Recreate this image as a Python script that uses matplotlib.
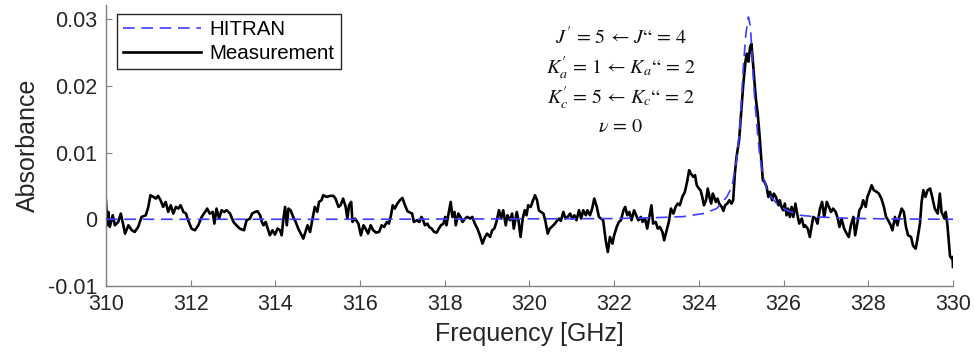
import numpy as np
import matplotlib
matplotlib.use('Agg')
import matplotlib.pyplot as plt

meas_freq = [
    310.00, 310.03, 310.055, 310.09, 310.16, 310.21, 310.29, 310.35, 310.41, 310.45,
    310.53, 310.61, 310.68, 310.76, 310.84, 310.94, 311.00, 311.05, 311.12, 311.18,
    311.23, 311.29, 311.35, 311.41, 311.47, 311.53, 311.59, 311.65, 311.71, 311.76,
    311.83, 311.89, 311.94, 312.02, 312.10, 312.18, 312.26, 312.34, 312.39, 312.45,
    312.52, 312.56, 312.61, 312.67, 312.73, 312.79, 312.85, 312.93, 313.01, 313.08,
    313.16, 313.26, 313.32, 313.40,
    313.45, 313.52, 313.58, 313.64, 313.68, 313.72, 313.77, 313.82, 313.87, 313.93,
    313.99, 314.05, 314.11, 314.15, 314.19, 314.23, 314.27, 314.31, 314.36, 314.42,
    314.48, 314.54, 314.60, 314.66, 314.71, 314.76, 314.82, 314.88, 314.93, 314.99,
    315.03, 315.09, 315.13, 315.21, 315.29, 315.37, 315.42, 315.49, 315.54, 315.60,
    315.66, 315.70, 315.74, 315.79, 315.82, 315.88, 315.96, 316.02, 316.08, 316.13,
    316.19, 316.25, 316.31, 316.38, 316.45, 316.51, 316.57, 316.63, 316.68, 316.73,
    316.77,
    316.82, 316.88, 316.94, 317.00, 317.06, 317.12, 317.18, 317.23, 317.27, 317.34,
    317.40, 317.45, 317.49, 317.53, 317.59, 317.63, 317.69, 317.75, 317.81, 317.86,
    317.91, 317.97, 318.01, 318.04, 318.09, 318.14, 318.18, 318.23, 318.26, 318.32,
    318.37, 318.42, 318.48, 318.53, 318.60, 318.65, 318.71, 318.77, 318.83, 318.89,
    318.95, 319.00, 319.07, 319.12, 319.17, 319.22, 319.28, 319.33, 319.38, 319.44,
    319.48, 319.54, 319.59, 319.63, 319.70, 319.74, 319.79, 319.84, 319.89, 319.93,
    319.97, 320.03, 320.07, 320.13, 320.18,
    320.22, 320.27, 320.33, 320.38, 320.43, 320.48, 320.54, 320.60, 320.66, 320.70,
    320.74, 320.80, 320.85, 320.90, 320.96, 321.01, 321.06, 321.11, 321.17, 321.22,
    321.27, 321.33, 321.37, 321.43, 321.48, 321.53, 321.59, 321.64, 321.69, 321.74,
    321.80, 321.85, 321.90, 321.96, 322.00, 322.06, 322.11, 322.16, 322.22, 322.26,
    322.31, 322.36, 322.41, 322.47, 322.52, 322.57, 322.63, 322.67, 322.73, 322.78,
    322.83, 322.88, 322.92, 322.98, 323.03, 323.08, 323.14, 323.18, 323.24, 323.29,
    323.34, 323.40, 323.45, 323.50, 323.55, 323.61,
    323.67, 323.73, 323.77, 323.81, 323.87, 323.91, 323.95, 324.00, 324.04, 324.08,
    324.12, 324.17, 324.21, 324.25, 324.29, 324.33, 324.36, 324.40, 324.44, 324.48,
    324.54, 324.58, 324.62, 324.67, 324.72, 324.77, 324.81, 324.85, 324.89, 324.95,
    324.99, 325.05, 325.10, 325.13, 325.17, 325.21, 325.24, 325.27, 325.31, 325.35,
    325.39, 325.43, 325.47, 325.51, 325.55, 325.60, 325.64, 325.68, 325.73, 325.77,
    325.82, 325.88, 325.91, 325.95, 325.99, 326.03, 326.07, 326.11, 326.15, 326.19,
    326.23, 326.28, 326.32, 326.37, 326.43, 326.48,
    326.51, 326.57, 326.62, 326.66, 326.70, 326.76, 326.80, 326.86, 326.91, 326.96,
    327.02, 327.07, 327.12, 327.17, 327.23, 327.28, 327.32, 327.37, 327.43, 327.49,
    327.54, 327.59, 327.65, 327.69, 327.74, 327.79, 327.84, 327.88, 327.94, 327.98,
    328.04, 328.08, 328.13, 328.20, 328.25, 328.31, 328.37, 328.42, 328.47, 328.53,
    328.57, 328.63, 328.69, 328.73, 328.79, 328.84, 328.89, 328.94, 329.01, 329.06,
    329.12, 329.17, 329.22, 329.26, 329.30, 329.35, 329.40, 329.46, 329.51, 329.57,
    329.64, 329.69, 329.73, 329.80, 329.83, 329.87, 329.93, 329.97, 329.99, 330.00,
]
meas_mabs = [
    2.8, -0.9, 1.1, -1.15, 0.6, -0.9, -0.4, 0.85, -0.9, -2.15,
    -0.9, -1.65, -1.9, -1.15, 0.35, 0.6, 1.85, 3.6, 3.35, 3.1,
    3.5, 2.85, 1.85, 2.6, 1.1, 2.1, 0.85, 1.85, 1.6, 2.1,
    1.1, 0.85, -0.15, -1.4, -1.65, -0.9, 0.35, 1.1, 1.6, 0.85,
    1.1, -0.65, 1.6, 0.1, 1.35, 1.1, 1.35, 0.85, -0.4, -0.9,
    -1.4, -1.65, -0.15, 0.1,
    0.85, 1.1, 1.2, 0.6, -0.4, -0.9, -0.4, -1.4, -2.4, -1.65,
    -2.3, -1.4, -1.65, -2.4, 0.1, 1.85, -0.9, 1.6, 1.35, 0.35,
    -0.4, -1.4, -2.15, -2.9, -1.9, -0.9, -1.9, 0.1, 1.85, 1.1,
    2.6, 2.85, 3.6, 3.35, 3.5, 3.5, 3.1, 1.85, 2.1, 3.1,
    1.85, 0.1, 2.1, 2.6, -0.4, 0.1, -0.65, -2.4, -0.9, -1.4,
    -2.15, -0.9, -1.65, -2.0, -1.9, -0.9, -1.15, -0.4, -0.65, 0.6,
    2.1,
    1.6, 2.35, 2.85, 3.2, 2.1, 1.2, 1.0, 0.85, -0.4, -0.15,
    -0.4, 0.35, -0.15, -0.9, -0.65, -1.15, -1.4, -1.9, -2.0, -1.4,
    -0.9, -0.65, 0.35, -0.9, 0.85, 2.6, 0.35, 1.1, -0.9, 0.85,
    0.35, -0.4, 0.1, 0.35, 0.1, 0.35, -0.65, -1.4, -2.4, -3.65,
    -2.65, -2.15, -2.65, -1.65, -1.4, -0.4, 1.35, 0.1, 1.35, -0.9,
    0.6, -0.15, 0.85, -1.4, 1.1, -0.15, -2.65, 0.1, 1.35, 0.6,
    2.1, 1.85, 2.6, 3.6, 2.85,
    1.35, 1.1, 0.85, -0.4, -2.15, -1.4, -1.05, -0.65, -0.15, 0.1,
    -0.25, 1.1, 0.1, 0.35, 0.85, 0.1, 0.6, -0.15, 1.35, 0.1,
    1.35, 0.6, 1.35, 0.6, 1.6, 3.1, 1.85, 0.35, 0.1, -0.15,
    -3.15, -4.9, -2.65, -3.65, -2.4, -1.15, -0.4, -0.15, 1.35, 1.85,
    0.6, 1.1, -0.15, 1.35, 0.6, -0.15, 0.35, -0.4, 0.1, -1.4,
    0.35, 2.1, -0.65, -0.4, -1.4, -1.15, -1.9, -3.15, -1.65, -0.4,
    1.6, 0.85, 1.85, 2.35, 2.1, 3.35,
    4.1, 5.85, 7.35, 6.85, 6.35, 6.6, 5.1, 4.6, 4.35, 3.35,
    2.1, 2.85, 4.6, 3.35, 2.35, 3.85, 3.35, 2.6, 3.1, 2.35,
    1.85, 1.25, 2.1, 2.35, 2.85, 2.35, 2.85, 6.85, 9.35, 11.85,
    15.3, 20.3, 23.6, 24.8, 23.6, 25.8, 26.3, 24.1, 20.8, 17.8,
    15.8, 12.8, 9.35, 5.85, 5.6, 4.85, 3.35, 4.1, 2.85, 3.85,
    3.35, 2.1, 2.85, 1.85, 1.35, 2.35, 0.6, 1.6, 0.35, 1.85,
    0.35, 2.35, 0.85, -0.65, 0.1, -1.15,
    -0.9, -1.4, -2.65, -1.15, 0.35, 0.1, -0.65, 1.6, 2.6, 0.35,
    2.6, 1.85, 1.1, 1.6, 1.1, 0.1, -1.15, 0.1, -1.4, -2.15,
    -2.65, -0.9, 0.35, -2.4, -0.65, 1.35, 1.85, 2.85, 1.85, 3.35,
    4.35, 5.1, 4.35, 4.1, 3.85, 3.1, 1.85, 0.35, -0.15, -0.9,
    -1.65, 0.35, -0.9, 0.35, 1.6, 1.1, -1.15, -2.4, -2.65, -4.0,
    -4.4, -2.65, -0.65, 2.6, 4.35, 3.35, 4.35, 4.6, 3.35, 1.6,
    0.85, 3.85, 1.1, 0.1, 1.1, -0.9, -5.5, -5.9, -5.65, -7.15,
]

# HITRAN line (units of 1e-3)
hitran_freq = [310.0, 316.0, 322.0, 323.0, 323.63, 324.1, 324.42, 324.66, 324.78, 324.89,
               324.97, 325.05, 325.11, 325.17, 325.22, 325.27, 325.32, 325.38, 325.44,
               325.52, 325.64, 325.84, 326.07, 326.39, 326.8, 327.5, 328.5, 330.0]
hitran_mabs = [0.0, 0.0, 0.1, 0.25, 0.4, 0.85, 1.6, 3.35, 4.85, 8.85,
               13.8, 22.8, 27.8, 30.3, 28.8, 22.8, 17.8, 13.3, 9.35,
               6.35, 3.85, 2.35, 1.35, 0.6, 0.35, 0.15, 0.05, 0.0]

x_ticks = [310, 312, 314, 316, 318, 320, 322, 324, 326, 328, 330]
y_ticks = [-0.01, 0, 0.01, 0.02, 0.03]
y_tick_labels = ['-0.01', '0', '0.01', '0.02', '0.03']

transition_lines = [
    "$J^{\\prime}$ = 5 \u2190 $J$\u201c = 4",
    "$K_a^{\\prime}$ = 1 \u2190 $K_a$\u201c = 2",
    "$K_c^{\\prime}$ = 5 \u2190 $K_c$\u201c = 2",
    "$\\nu$ = 0",
]

plt.rcParams['font.family'] = ['Liberation Sans', 'DejaVu Sans']
plt.rcParams['mathtext.fontset'] = 'stix'

fig = plt.figure(figsize=(9.74, 3.54), dpi=100)
ax = fig.add_axes([0.1088, 0.192, 0.8696, 0.794])

ax.plot(hitran_freq, np.array(hitran_mabs) / 1000, color='#3d3dff', lw=1.2,
        linestyle=(0, (7, 4)), label='HITRAN', zorder=3)
ax.plot(meas_freq, np.array(meas_mabs) / 1000, color='black', lw=1.9,
        label='Measurement', zorder=2)

ax.set_xlim(310, 330)
ax.set_ylim(-0.01, 0.0321)
ax.set_xticks(x_ticks)
ax.set_yticks(y_ticks)
ax.set_yticklabels(y_tick_labels)

for side in ['top', 'right']:
    ax.spines[side].set_visible(False)
for side in ['left', 'bottom']:
    ax.spines[side].set_color('#808080')
    ax.spines[side].set_linewidth(1.0)
ax.tick_params(direction='in', length=4, color='#808080', labelsize=15.5,
               labelcolor='#262626', pad=6)

ax.set_xlabel('Frequency [GHz]', fontsize=18, color='#262626', labelpad=5)
ax.set_ylabel('Absorbance', fontsize=18, color='#262626', labelpad=6)

leg = ax.legend(loc='upper left', bbox_to_anchor=(0.013, 0.968), borderaxespad=0,
                fontsize=14.8, handlelength=3.8, handletextpad=0.4,
                labelspacing=0.25, fancybox=False, framealpha=1,
                edgecolor='#262626', borderpad=0.3)
leg.get_frame().set_linewidth(1.0)

for txt, yy in zip(transition_lines, [0.886, 0.776, 0.669, 0.566]):
    ax.text(0.608, yy, txt, transform=ax.transAxes, ha='center', va='center',
            fontsize=14.5, family='STIXGeneral', color='#111111')

fig.savefig('out.png', dpi=100)
